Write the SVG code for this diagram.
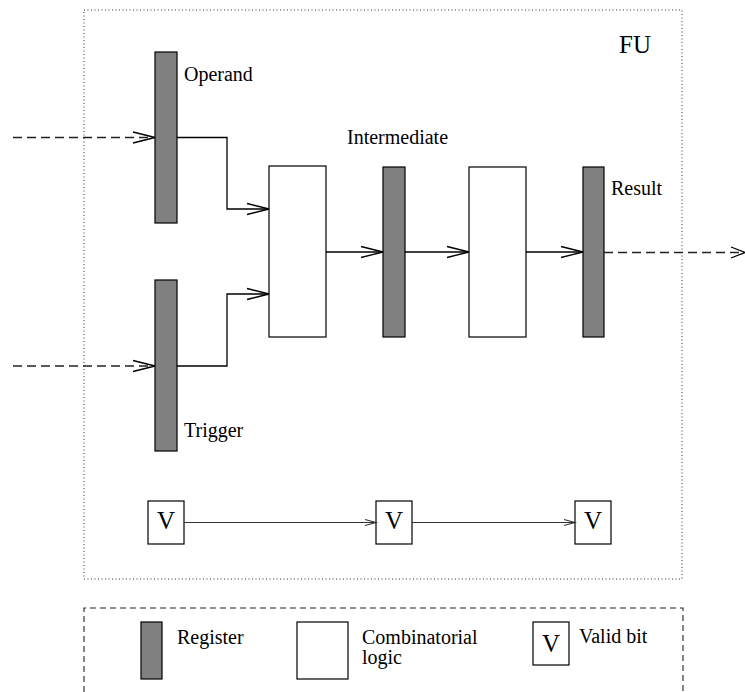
<svg xmlns="http://www.w3.org/2000/svg" width="745" height="692" viewBox="0 0 745 692">
<style>
text{font-family:"Liberation Serif","Times New Roman",serif;fill:#000}
.lbl{font-size:20px}
.v{font-size:25px;text-anchor:middle}
.reg{fill:#808080;stroke:#000;stroke-width:1.2}
.logic{fill:#fff;stroke:#000;stroke-width:1.2}
.vbox{fill:#fff;stroke:#000;stroke-width:1.2}
.wire{fill:none;stroke:#000;stroke-width:1.3}
.dash{fill:none;stroke:#222;stroke-width:1.3;stroke-dasharray:9,5}
.thin{fill:none;stroke:#333;stroke-width:1.1}
.head{fill:none;stroke:#000;stroke-width:1.3}
</style>
<g id="fu-frame">
<rect x="84" y="10" width="598" height="569" fill="none" stroke="#333" stroke-width="1" stroke-dasharray="1,2.5"/>
<text x="619" y="53" style="font-size:25px">FU</text>
</g>
<g id="operand">
<rect class="reg" x="155" y="52" width="22" height="171"/>
<text class="lbl" x="184" y="81">Operand</text>
</g>
<g id="trigger">
<rect class="reg" x="155" y="280" width="22" height="171"/>
<text class="lbl" x="184" y="437">Trigger</text>
</g>
<g id="logic1">
<rect class="logic" x="269" y="166" width="57" height="171"/>
</g>
<g id="intermediate">
<rect class="reg" x="383" y="167" width="22" height="170"/>
<text class="lbl" x="347" y="144">Intermediate</text>
</g>
<g id="logic2">
<rect class="logic" x="469" y="167" width="57" height="170"/>
</g>
<g id="result">
<rect class="reg" x="583" y="167" width="21" height="170"/>
<text class="lbl" x="611" y="195">Result</text>
</g>
<g id="v1"><rect class="vbox" x="148" y="501" width="36" height="43"/><text class="v" x="166" y="529">V</text></g>
<g id="v2"><rect class="vbox" x="376" y="501" width="36" height="43"/><text class="v" x="394" y="529">V</text></g>
<g id="v3"><rect class="vbox" x="575" y="501" width="36" height="43"/><text class="v" x="593" y="529">V</text></g>
<g id="connectors">
<path class="dash" d="M13,137.5 H153"/>
<path class="head" d="M133,132 L155,137.5 L133,143"/>
<path class="dash" d="M13,366 H153"/>
<path class="head" d="M133,360.5 L155,366 L133,371.5"/>
<path class="wire" d="M177,137.5 H227 V209 H268"/>
<path class="head" d="M247,203.5 L269,209 L247,214.5"/>
<path class="wire" d="M177,366 H227 V294 H268"/>
<path class="head" d="M247,288.5 L269,294 L247,299.5"/>
<path class="wire" d="M326,252 H382"/>
<path class="head" d="M361,246.5 L383,252 L361,257.5"/>
<path class="wire" d="M405,252 H468"/>
<path class="head" d="M447,246.5 L469,252 L447,257.5"/>
<path class="wire" d="M526,252 H582"/>
<path class="head" d="M561,246.5 L583,252 L561,257.5"/>
<path class="dash" d="M604,252.5 H743"/>
<path class="head" d="M731,247 L745,252.5 L731,258"/>
<path class="thin" d="M184,522.5 H375"/>
<path class="thin" d="M365,519.5 L376,522.5 L365,525.5"/>
<path class="thin" d="M412,522.5 H574"/>
<path class="thin" d="M564,519.5 L575,522.5 L564,525.5"/>
</g>
<g id="legend">
<path d="M84,692 V608 H683 V692" fill="none" stroke="#222" stroke-width="1.1" stroke-dasharray="6,4"/>
<rect class="reg" x="141" y="622" width="21" height="57"/>
<text class="lbl" x="177" y="644">Register</text>
<rect class="logic" x="297" y="622" width="51" height="57"/>
<text class="lbl" x="362" y="644">Combinatorial</text>
<text class="lbl" x="362" y="664">logic</text>
<rect class="vbox" x="533" y="622" width="36" height="43"/>
<text class="v" x="551" y="652">V</text>
<text class="lbl" x="579" y="643">Valid bit</text>
</g>
</svg>
